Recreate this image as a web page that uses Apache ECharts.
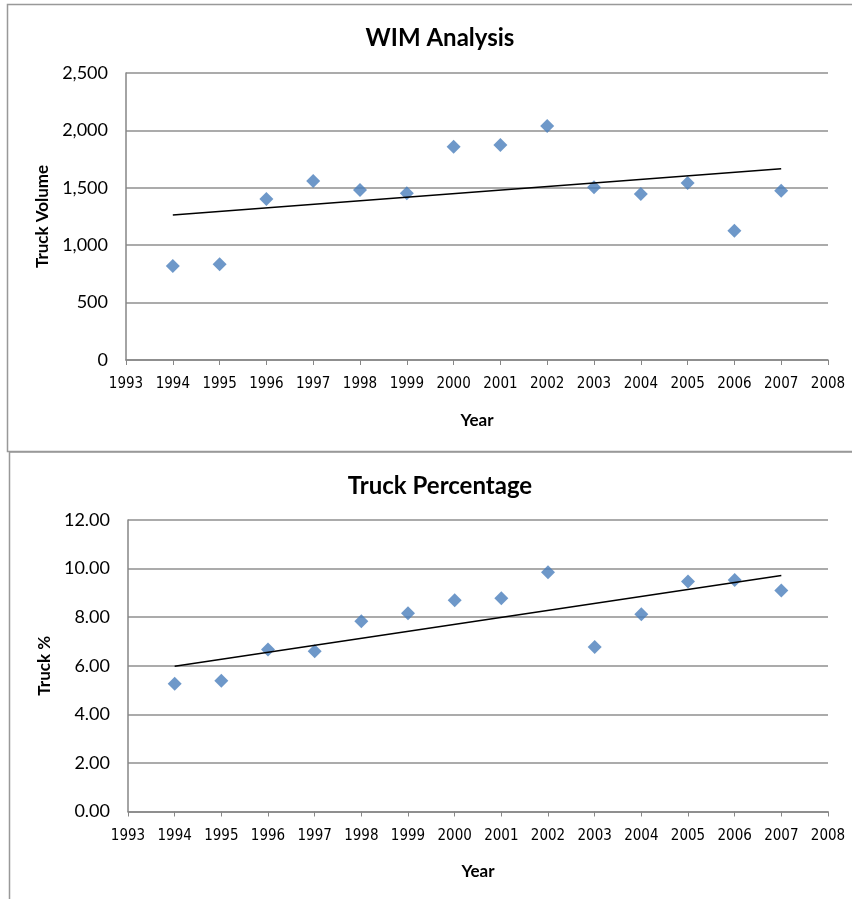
<!DOCTYPE html>
<html><head><meta charset="utf-8">
<script src="https://cdn.jsdelivr.net/npm/echarts@6/dist/echarts.min.js"></script>
<style>html,body{margin:0;padding:0;background:#fff}#c{width:852px;height:899px}</style>
</head><body><div id="c"></div>
<script>
const years = [1994,1995,1996,1997,1998,1999,2000,2001,2002,2003,2004,2005,2006,2007];
const truckVolume = [819,834,1402,1559,1481,1452,1858,1873,2038,1504,1446,1542,1126,1475];
const truckPct = [5.26,5.38,6.67,6.60,7.83,8.16,8.70,8.78,9.85,6.77,8.12,9.47,9.53,9.10];
const trendYears = [1994, 2007];
const trendVolume = [1263, 1667];
const trendPct = [5.98, 9.72];
const titles = ['WIM Analysis', 'Truck Percentage'];
const yNames = ['Truck Volume', 'Truck %'];
const xName = 'Year';

const pairs = (xs, ys) => xs.map((x, i) => [x, ys[i]]);
const tickFont = "'Liberation Sans Narrow','DejaVu Sans Condensed',Lato,sans-serif";
const mainFont = "Lato,'Open Sans',sans-serif";
const axisCol = '#868686', gridCol = '#8f8f8f';

function xAxis(gi) {
  return {
    type: 'value', gridIndex: gi, min: 1993, max: 2008, interval: 1,
    name: xName, nameLocation: 'middle', nameGap: 52,
    nameTextStyle: {fontFamily: mainFont, fontWeight: 'bold', fontSize: 17, color: '#000'},
    axisLine: {show: true, lineStyle: {color: axisCol, width: 1.5}},
    axisTick: {show: true, length: 5, lineStyle: {color: axisCol}},
    splitLine: {show: false},
    axisLabel: {formatter: v => String(v), fontFamily: tickFont, fontSize: 15, color: '#000', margin: 17}
  };
}
function yAxis(gi, max, interval, fmt) {
  return {
    type: 'value', gridIndex: gi, min: 0, max: max, interval: interval,
    name: yNames[gi], nameLocation: 'middle', nameGap: 72, nameRotate: 90,
    nameTextStyle: {fontFamily: mainFont, fontWeight: 'bold', fontSize: 17, color: '#000'},
    axisLine: {show: true, lineStyle: {color: axisCol, width: 1.5}},
    axisTick: {show: false},
    splitLine: {show: true, lineStyle: {color: gridCol, width: 1.5}},
    axisLabel: {formatter: fmt, fontFamily: mainFont, fontSize: 18, color: '#000', margin: 18}
  };
}
const chart = echarts.init(document.getElementById('c'), null, {renderer: 'canvas'});
chart.setOption({
  animation: false,
  backgroundColor: '#fff',
  title: [
    {text: titles[0], left: 435, top: 21, textAlign: 'center', textStyle: {fontFamily: mainFont, fontWeight: 'bold', fontSize: 24, color: '#000'}},
    {text: titles[1], left: 435, top: 469, textAlign: 'center', textStyle: {fontFamily: mainFont, fontWeight: 'bold', fontSize: 24, color: '#000'}}
  ],
  graphic: [
    {type: 'rect', shape: {x: 7.5, y: 4.5, width: 900, height: 447}, style: {fill: 'none', stroke: '#999', lineWidth: 1.5}, z: -1},
    {type: 'rect', shape: {x: 9.5, y: 452, width: 900, height: 500}, style: {fill: 'none', stroke: '#999', lineWidth: 1.5}, z: -1}
  ],
  grid: [
    {left: 126, top: 73, width: 702, height: 287},
    {left: 128, top: 520, width: 700, height: 291.5}
  ],
  xAxis: [xAxis(0), xAxis(1)],
  yAxis: [
    yAxis(0, 2500, 500, v => v.toLocaleString('en-US')),
    yAxis(1, 12, 2, v => v.toFixed(2))
  ],
  series: [
    {type: 'scatter', xAxisIndex: 0, yAxisIndex: 0, data: pairs(years, truckVolume), symbol: 'diamond', symbolSize: 14, itemStyle: {color: '#4a7ebb'}},
    {type: 'line', xAxisIndex: 0, yAxisIndex: 0, data: pairs(trendYears, trendVolume), symbol: 'none', lineStyle: {color: '#000', width: 1.5}},
    {type: 'scatter', xAxisIndex: 1, yAxisIndex: 1, data: pairs(years, truckPct), symbol: 'diamond', symbolSize: 14, itemStyle: {color: '#4a7ebb'}},
    {type: 'line', xAxisIndex: 1, yAxisIndex: 1, data: pairs(trendYears, trendPct), symbol: 'none', lineStyle: {color: '#000', width: 1.5}}
  ]
});
</script></body></html>
